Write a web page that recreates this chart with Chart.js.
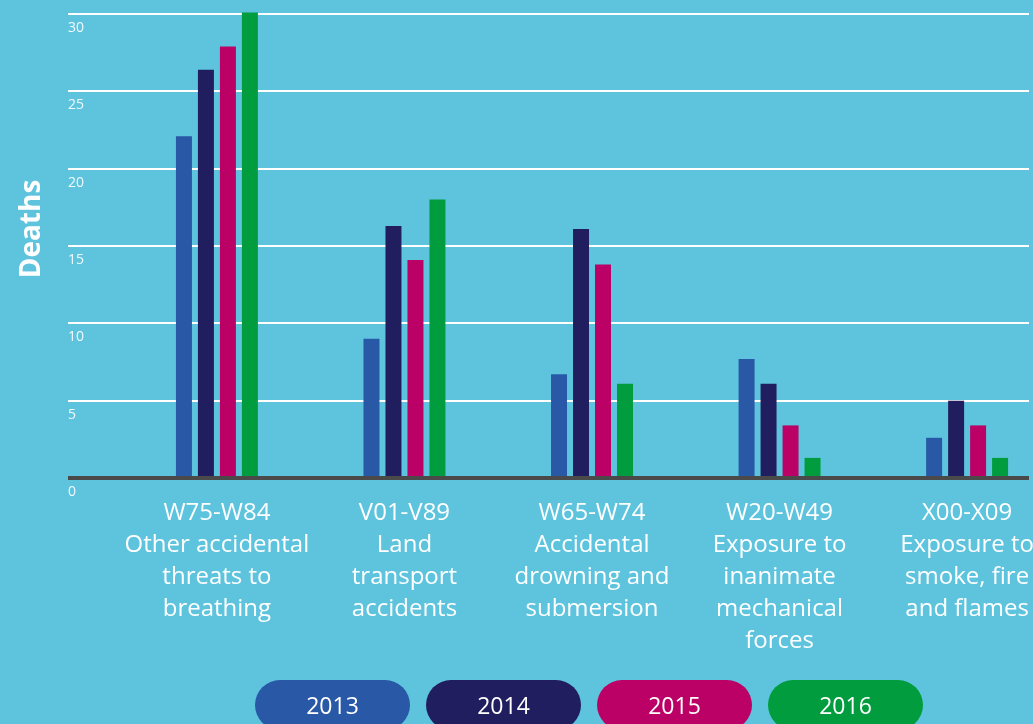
<!DOCTYPE html>
<html>
<head>
<meta charset="utf-8">
<script src="https://cdn.jsdelivr.net/npm/chart.js@4/dist/chart.umd.min.js"></script>
<style>
  body { margin: 0; background: #5ec4de; overflow: hidden; }
  #wrap { position: relative; width: 1033px; height: 724px; }
  #legend { position: absolute; left: 255px; top: 680px; display: flex; gap: 16px; }
  .pill {
    width: 155px; height: 50px; border-radius: 25px;
    color: #fff; font: 23px "Open Sans", sans-serif;
    display: flex; align-items: center; justify-content: center;
  }
</style>
</head>
<body>
<div id="wrap">
  <canvas id="myChart" width="1033" height="724"></canvas>
  <div id="legend"></div>
</div>
<script>
const years = ['2013', '2014', '2015', '2016']
const colors = ['#2858a6', '#201e5e', '#bb0066', '#009c3d']

const categories = [
  ['W75-W84', 'Other accidental', 'threats to', 'breathing'],
  ['V01-V89', 'Land', 'transport', 'accidents'],
  ['W65-W74', 'Accidental', 'drowning and', 'submersion'],
  ['W20-W49', 'Exposure to', 'inanimate', 'mechanical', 'forces'],
  ['X00-X09', 'Exposure to', 'smoke, fire', 'and flames']
]

const deaths2013 = [22.1, 9.0, 6.7, 7.7, 2.6]
const deaths2014 = [26.4, 16.3, 16.1, 6.1, 5.0]
const deaths2015 = [27.9, 14.1, 13.8, 3.4, 3.4]
const deaths2016 = [30.1, 18.0, 6.1, 1.3, 1.3]

const yTicks = [0, 5, 10, 15, 20, 25, 30]

const series = [deaths2013, deaths2014, deaths2015, deaths2016]

var datasets = series.map(function(values, i) {
  return {
    label: years[i],
    data: values.map(function(v, j) { return { x: j, y: v } }),
    backgroundColor: colors[i],
    categoryPercentage: 0.469,
    barPercentage: 0.727,
    clip: false
  }
})

// rotated y axis title
const axisTitle = {
  id: 'axisTitle',
  afterDraw(chart) {
    var ctx = chart.ctx
    ctx.save()
    ctx.translate(32, 229)
    ctx.rotate(-Math.PI / 2)
    ctx.font = 'bold 28px "Open Sans", sans-serif'
    ctx.fillStyle = '#ffffff'
    ctx.textAlign = 'center'
    ctx.textBaseline = 'middle'
    ctx.fillText('Deaths', 0, 0)
    ctx.restore()
  }
}

var ctx = document.getElementById('myChart')
var chart = new Chart(ctx, {
  type: 'bar',
  data: { datasets: datasets },
  plugins: [axisTitle],
  options: {
    responsive: false,
    animation: false,
    layout: { padding: { left: 68, right: 4, top: 14, bottom: 56 } },
    plugins: { legend: { display: false }, tooltip: { enabled: false } },
    scales: {
      x: {
        type: 'linear',
        offset: false,
        min: -0.794,
        max: 4.33,
        grid: { display: false },
        border: { display: false },
        afterBuildTicks: function(scale) {
          scale.ticks = categories.map(function(c, i) { return { value: i } })
        },
        afterFit: function(scale) {
          // labels fit already, don't let them squeeze the plot
          scale.paddingLeft = 0
          scale.paddingRight = 0
        },
        ticks: {
          autoSkip: false,
          maxRotation: 0,
          padding: 11,
          color: '#ffffff',
          font: { family: '"Open Sans", sans-serif', size: 24, lineHeight: 32 / 24 },
          callback: function(value) { return categories[value] }
        }
      },
      y: {
        min: 0,
        max: 30,
        afterBuildTicks: function(scale) {
          scale.ticks = yTicks.map(function(v) { return { value: v } })
        },
        border: { display: false },
        grid: {
          drawTicks: false,
          color: function(c) { return c.tick.value === 0 ? '#4a4a4a' : '#ffffff' },
          lineWidth: function(c) { return c.tick.value === 0 ? 4 : 2 }
        },
        ticks: {
          mirror: true,
          padding: 0,
          labelOffset: 14,
          color: 'rgba(255,255,255,0.9)',
          font: { family: '"Open Sans", sans-serif', size: 14 }
        }
      }
    }
  }
})

var legend = document.getElementById('legend')
years.forEach(function(y, i) {
  var pill = document.createElement('div')
  pill.className = 'pill'
  pill.style.backgroundColor = colors[i]
  pill.textContent = y
  legend.appendChild(pill)
})
</script>
</body>
</html>
